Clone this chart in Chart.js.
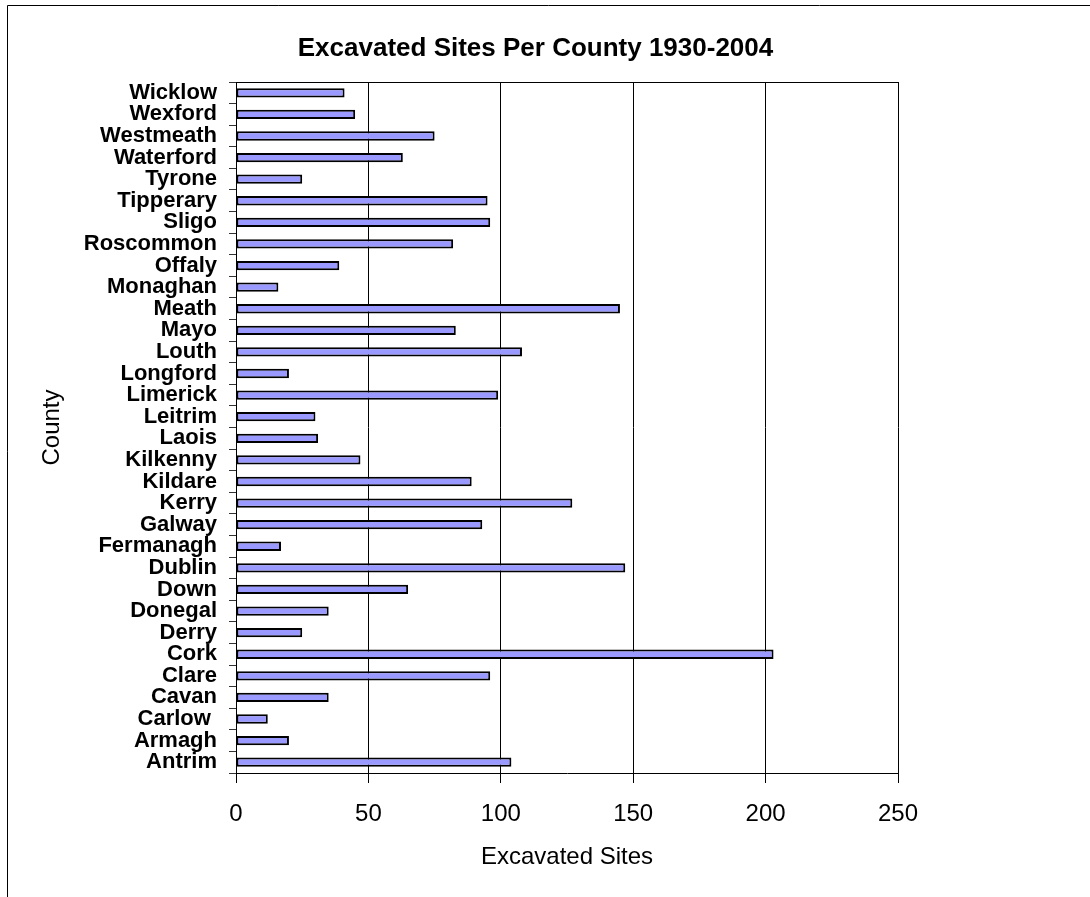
<!DOCTYPE html>
<html>
<head>
<meta charset="utf-8">
<script src="https://cdn.jsdelivr.net/npm/chart.js@4"></script>
<style>
  html, body { margin: 0; padding: 0; background: #ffffff; }
  canvas { display: block; }
</style>
</head>
<body>
<canvas id="c" width="1090" height="897"></canvas>
<script>
const chartTitle = "Excavated Sites Per County 1930-2004";
const xAxisTitle = "Excavated Sites";
const yAxisTitle = "County";
const counties = ["Antrim","Armagh","Carlow ","Cavan","Clare","Cork","Derry","Donegal","Down","Dublin",
  "Fermanagh","Galway","Kerry","Kildare","Kilkenny","Laois","Leitrim","Limerick","Longford","Louth",
  "Mayo","Meath","Monaghan","Offaly","Roscommon","Sligo","Tipperary","Tyrone","Waterford","Westmeath",
  "Wexford","Wicklow"];
const sites = [104,20,12,35,96,203,25,35,65,147,
  17,93,127,89,47,31,30,99,20,108,
  83,145,16,39,82,96,95,25,63,75,
  45,41];
const xMin = 0, xMax = 250, xStep = 50;

const FONT = "'Liberation Sans', Arial, Helvetica, sans-serif";

const decorPlugin = {
  id: 'decor',
  afterDraw(chart) {
    const ctx = chart.ctx;
    const a = chart.chartArea;
    ctx.save();
    // outer frame (left and top edges visible)
    ctx.strokeStyle = '#000';
    ctx.lineWidth = 1;
    ctx.beginPath();
    ctx.moveTo(7.5, 897);
    ctx.lineTo(7.5, 5.5);
    ctx.lineTo(1090, 5.5);
    ctx.stroke();
    // plot area top border
    ctx.beginPath();
    ctx.moveTo(a.left, Math.round(a.top) + 0.5);
    ctx.lineTo(a.right, Math.round(a.top) + 0.5);
    ctx.stroke();
    // chart title
    ctx.fillStyle = '#000';
    ctx.font = "bold 26px " + FONT;
    ctx.textAlign = 'center';
    ctx.textBaseline = 'middle';
    ctx.fillText(chartTitle, 535.5, 49);
    ctx.restore();
  }
};

new Chart(document.getElementById('c'), {
  type: 'bar',
  data: {
    labels: counties,
    datasets: [{
      label: xAxisTitle,
      data: sites,
      backgroundColor: '#9999FF',
      borderColor: '#000000',
      borderWidth: 2,
      borderSkipped: false,
      barPercentage: 0.43,
      categoryPercentage: 1.0
    }]
  },
  options: {
    indexAxis: 'y',
    responsive: false,
    animation: false,
    devicePixelRatio: 1,
    layout: { padding: { left: 0, right: 192, top: 82, bottom: 0 } },
    plugins: {
      legend: { display: false },
      title: { display: false },
      tooltip: { enabled: false }
    },
    scales: {
      x: {
        type: 'linear',
        min: xMin, max: xMax,
        ticks: {
          stepSize: xStep,
          color: '#000',
          font: { family: FONT, size: 24 },
          padding: 16.6,
          maxRotation: 0, minRotation: 0
        },
        grid: { color: '#000', lineWidth: 1, tickLength: 10, drawTicks: true, drawOnChartArea: true },
        border: { display: true, color: '#000', width: 1 },
        title: {
          display: true, text: xAxisTitle, color: '#000',
          font: { family: FONT, size: 24 },
          padding: { top: 0, bottom: 25.6 }
        },
        afterFit(scale) { scale.height = 124; }
      },
      y: {
        type: 'category',
        reverse: true,
        offset: true,
        ticks: {
          autoSkip: false,
          color: '#000',
          font: { family: FONT, size: 22, weight: 'bold' },
          padding: 12
        },
        grid: { offset: true, color: '#333', lineWidth: 1, tickLength: 7, drawTicks: true, drawOnChartArea: false },
        border: { display: true, color: '#000', width: 1 },
        title: {
          display: true, text: yAxisTitle, color: '#000',
          font: { family: FONT, size: 24 },
          padding: { top: 37.6, bottom: 0 }
        },
        afterFit(scale) { scale.width = 236; }
      }
    }
  },
  plugins: [decorPlugin]
});
</script>
</body>
</html>
